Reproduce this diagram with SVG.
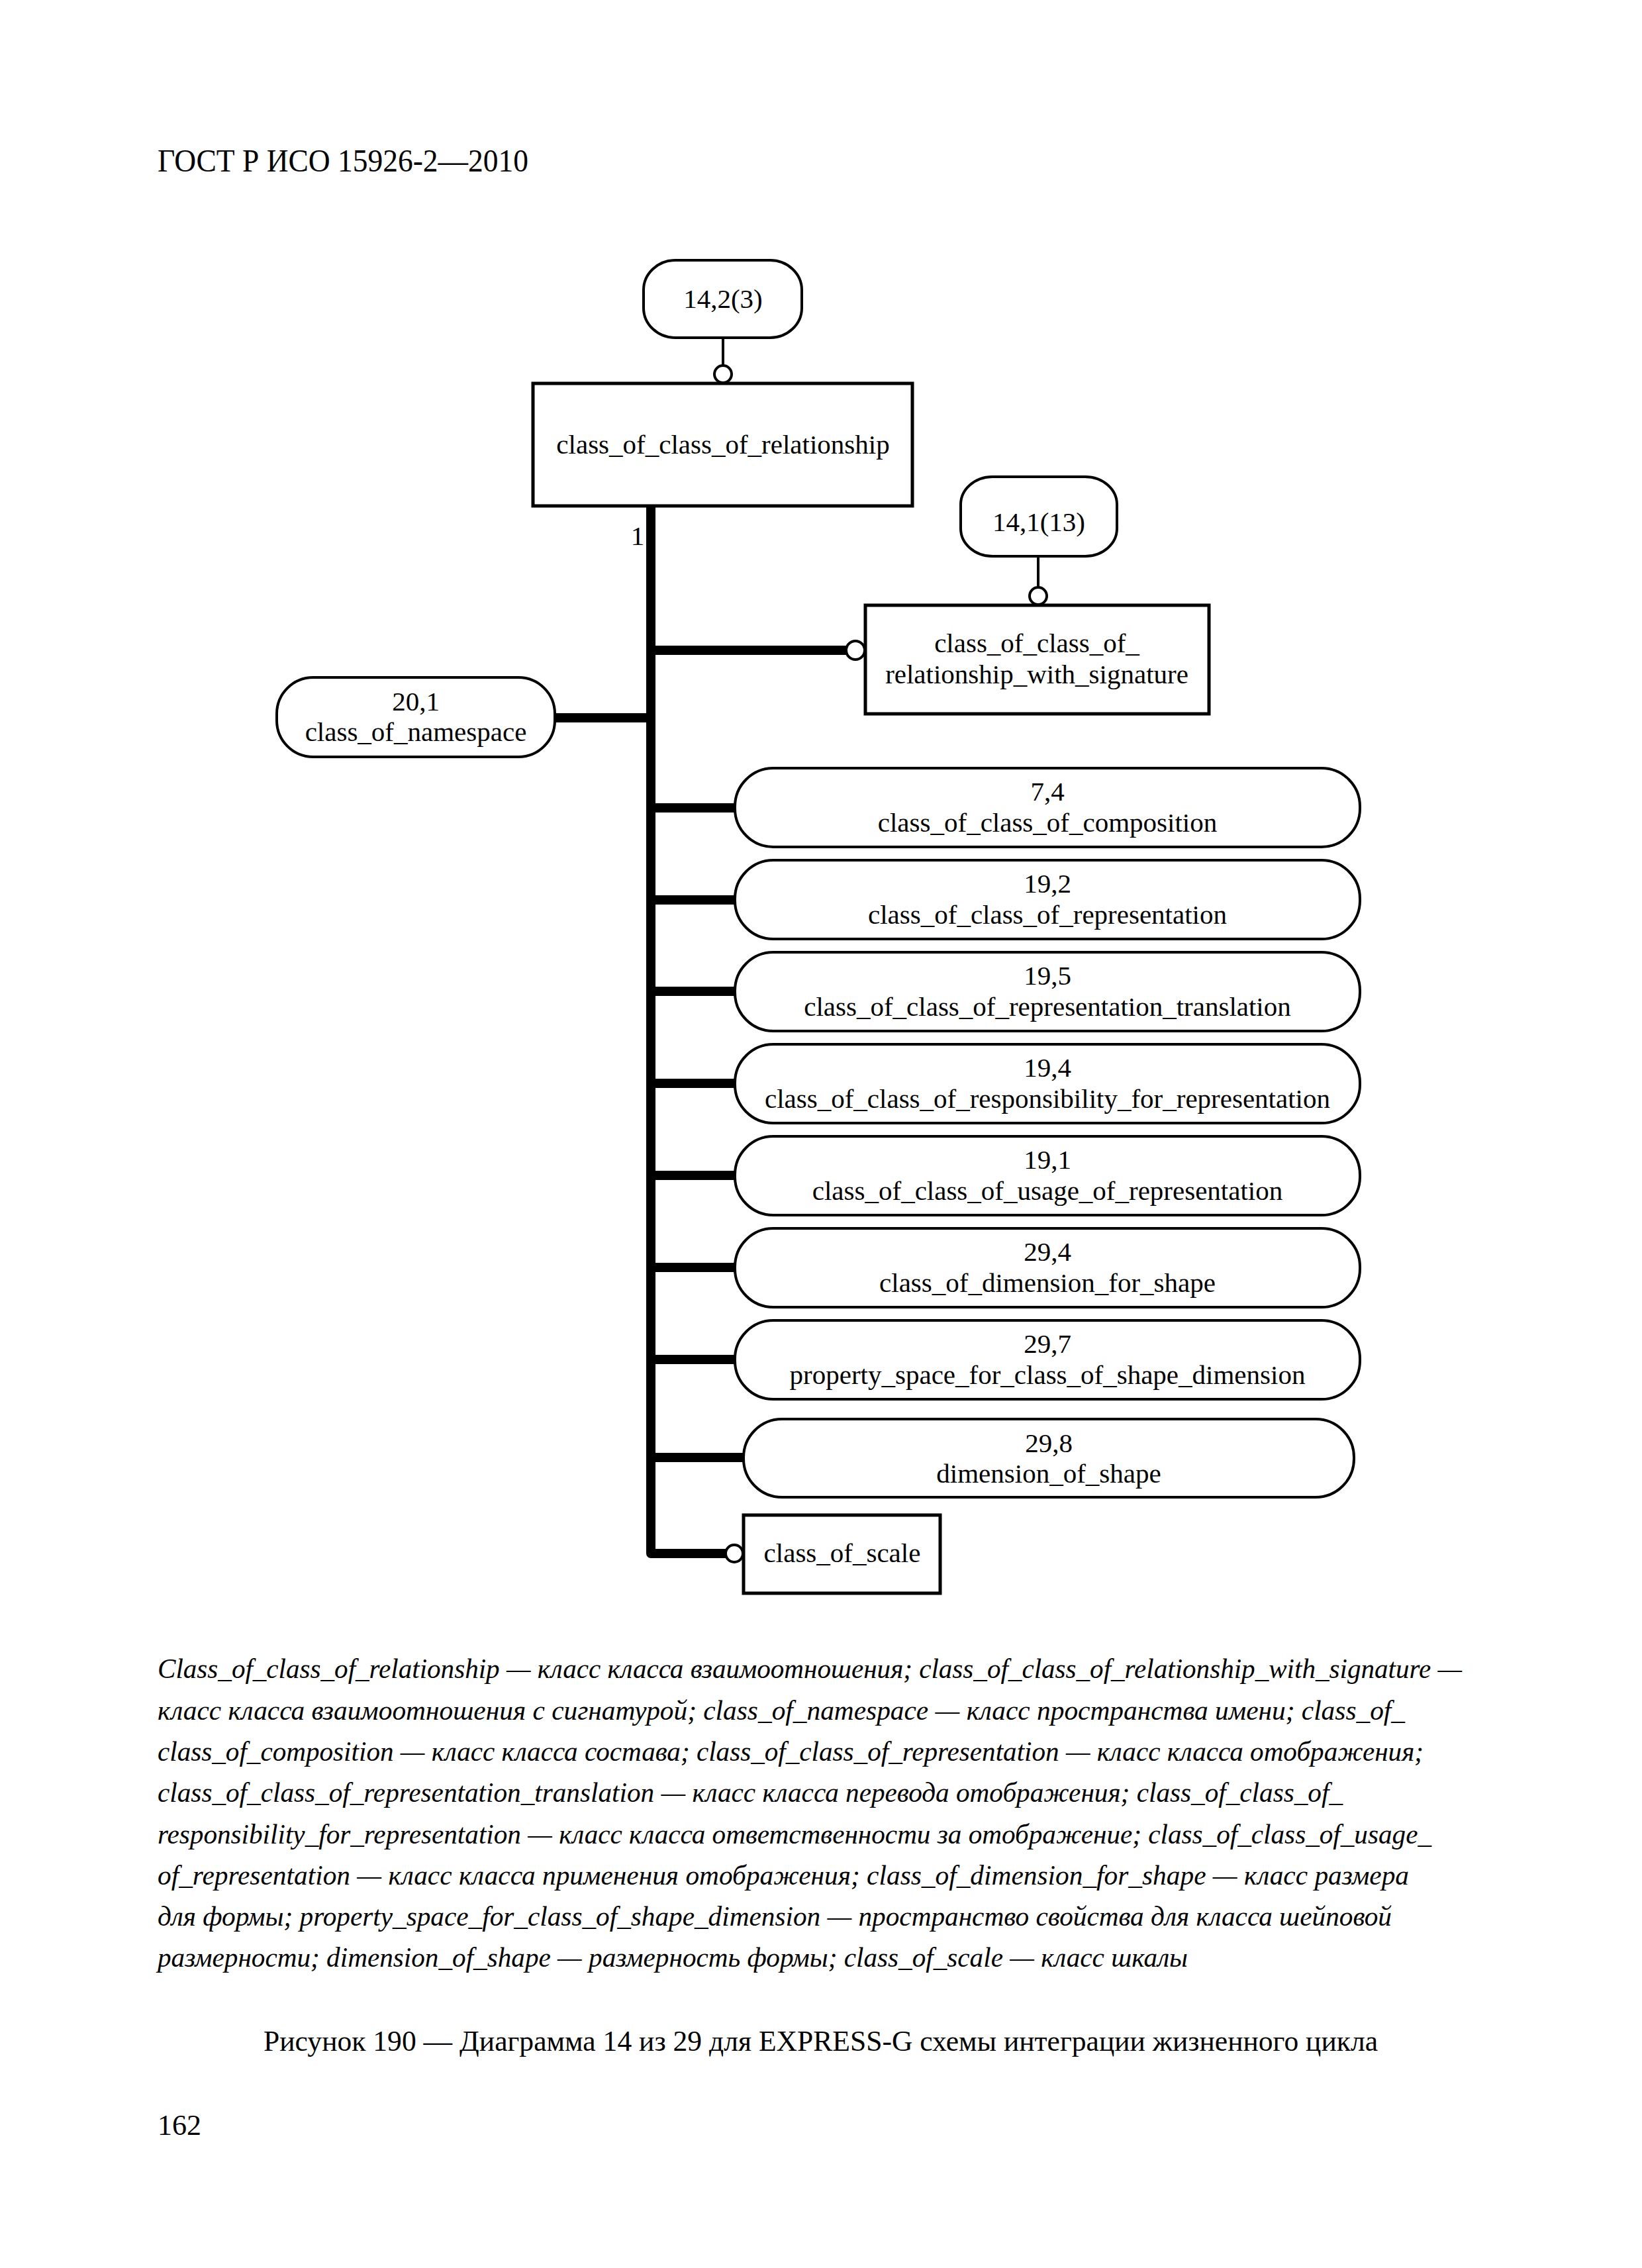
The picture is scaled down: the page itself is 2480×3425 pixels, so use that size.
<svg xmlns="http://www.w3.org/2000/svg" width="2480" height="3425" viewBox="0 0 2480 3425">
<style>
text{font-family:"Liberation Serif","Times New Roman",serif;fill:#000}
.n{font-size:41px;text-anchor:middle}
.cap{font-size:42px;font-style:italic}
.shape{fill:#fff;stroke:#000;stroke-width:5}
.ov{fill:#fff;stroke:#000;stroke-width:4}
.thin{stroke:#000;stroke-width:4;fill:none}
.thick{stroke:#000;stroke-width:14;fill:none}
.oc{fill:#fff;stroke:#000;stroke-width:4}
</style>
<rect width="2480" height="3425" fill="#fff"/>
<text x="238" y="259" font-size="48" textLength="560" lengthAdjust="spacingAndGlyphs">ГОСТ Р ИСО 15926-2—2010</text>

<g id="connectors">
  <line class="thin" x1="1092" y1="510" x2="1092" y2="552"/>
  <line class="thin" x1="1568" y1="840" x2="1568" y2="886"/>
  <path class="thick" d="M983 764 V2346 H1096" stroke-linecap="round" stroke-linejoin="round"/>
  <line class="thick" x1="983" y1="982" x2="1278" y2="982"/>
  <line class="thick" x1="983" y1="1084" x2="838" y2="1084" stroke-linecap="round"/>
  <line class="thick" x1="983" y1="1220" x2="1108" y2="1220" stroke-linecap="round"/>
  <line class="thick" x1="983" y1="1359" x2="1108" y2="1359" stroke-linecap="round"/>
  <line class="thick" x1="983" y1="1497" x2="1108" y2="1497" stroke-linecap="round"/>
  <line class="thick" x1="983" y1="1636" x2="1108" y2="1636" stroke-linecap="round"/>
  <line class="thick" x1="983" y1="1775" x2="1108" y2="1775" stroke-linecap="round"/>
  <line class="thick" x1="983" y1="1914" x2="1108" y2="1914" stroke-linecap="round"/>
  <line class="thick" x1="983" y1="2053" x2="1108" y2="2053" stroke-linecap="round"/>
  <line class="thick" x1="983" y1="2201" x2="1122" y2="2201" stroke-linecap="round"/>
  <circle class="oc" cx="1092" cy="565" r="13"/>
  <circle class="oc" cx="1568" cy="900" r="13"/>
  <circle class="oc" cx="1292" cy="982" r="14"/>
  <circle class="oc" cx="1109" cy="2346" r="13"/>
  <text x="963" y="823" font-size="41" text-anchor="middle">1</text>
</g>

<g id="ref-14-2-3">
  <rect class="ov" x="972" y="393" width="239" height="117" rx="48" ry="45"/>
  <text class="n" x="1092" y="465">14,2(3)</text>
</g>
<g id="class_of_class_of_relationship">
  <rect class="shape" x="805" y="579" width="573" height="185"/>
  <text class="n" x="1092" y="685">class_of_class_of_relationship</text>
</g>
<g id="ref-14-1-13">
  <rect class="ov" x="1451" y="720" width="236" height="120" rx="48" ry="42"/>
  <text class="n" x="1569" y="802">14,1(13)</text>
</g>
<g id="class_of_class_of_relationship_with_signature">
  <rect class="shape" x="1307" y="914" width="519" height="164"/>
  <text class="n" x="1566" y="985">class_of_class_of_</text>
  <text class="n" x="1566" y="1032">relationship_with_signature</text>
</g>
<g id="class_of_namespace">
  <rect class="ov" x="418" y="1023" width="420" height="120" rx="55" ry="55"/>
  <text class="n" x="628" y="1073">20,1</text>
  <text class="n" x="628" y="1119">class_of_namespace</text>
</g>
<g id="class_of_class_of_composition">
  <rect class="ov" x="1110" y="1160" width="944" height="119" rx="58" ry="58"/>
  <text class="n" x="1582" y="1209">7,4</text>
  <text class="n" x="1582" y="1256">class_of_class_of_composition</text>
</g>
<g id="class_of_class_of_representation">
  <rect class="ov" x="1110" y="1299" width="944" height="119" rx="58" ry="58"/>
  <text class="n" x="1582" y="1348">19,2</text>
  <text class="n" x="1582" y="1395">class_of_class_of_representation</text>
</g>
<g id="class_of_class_of_representation_translation">
  <rect class="ov" x="1110" y="1438" width="944" height="119" rx="58" ry="58"/>
  <text class="n" x="1582" y="1487">19,5</text>
  <text class="n" x="1582" y="1534">class_of_class_of_representation_translation</text>
</g>
<g id="class_of_class_of_responsibility_for_representation">
  <rect class="ov" x="1110" y="1577" width="944" height="119" rx="58" ry="58"/>
  <text class="n" x="1582" y="1626">19,4</text>
  <text class="n" x="1582" y="1673">class_of_class_of_responsibility_for_representation</text>
</g>
<g id="class_of_class_of_usage_of_representation">
  <rect class="ov" x="1110" y="1716" width="944" height="119" rx="58" ry="58"/>
  <text class="n" x="1582" y="1765">19,1</text>
  <text class="n" x="1582" y="1812">class_of_class_of_usage_of_representation</text>
</g>
<g id="class_of_dimension_for_shape">
  <rect class="ov" x="1110" y="1855" width="944" height="119" rx="58" ry="58"/>
  <text class="n" x="1582" y="1904">29,4</text>
  <text class="n" x="1582" y="1951">class_of_dimension_for_shape</text>
</g>
<g id="property_space_for_class_of_shape_dimension">
  <rect class="ov" x="1110" y="1994" width="944" height="119" rx="58" ry="58"/>
  <text class="n" x="1582" y="2043">29,7</text>
  <text class="n" x="1582" y="2090">property_space_for_class_of_shape_dimension</text>
</g>
<g id="dimension_of_shape">
  <rect class="ov" x="1123" y="2143" width="922" height="118" rx="58" ry="58"/>
  <text class="n" x="1584" y="2193">29,8</text>
  <text class="n" x="1584" y="2239">dimension_of_shape</text>
</g>
<g id="class_of_scale">
  <rect class="shape" x="1123" y="2288" width="297" height="118"/>
  <text class="n" x="1272" y="2359">class_of_scale</text>
</g>

<g id="legend">
  <text class="cap" x="238" y="2534" textLength="1970" lengthAdjust="spacingAndGlyphs">Class_of_class_of_relationship — класс класса взаимоотношения; class_of_class_of_relationship_with_signature —</text>
  <text class="cap" x="238" y="2597" textLength="1884" lengthAdjust="spacingAndGlyphs">класс класса взаимоотношения с сигнатурой; class_of_namespace — класс пространства имени; class_of_</text>
  <text class="cap" x="238" y="2659" textLength="1912" lengthAdjust="spacingAndGlyphs">class_of_composition — класс класса состава; class_of_class_of_representation — класс класса отображения;</text>
  <text class="cap" x="238" y="2721" textLength="1790" lengthAdjust="spacingAndGlyphs">class_of_class_of_representation_translation — класс класса перевода отображения; class_of_class_of_</text>
  <text class="cap" x="238" y="2784" textLength="1924" lengthAdjust="spacingAndGlyphs">responsibility_for_representation — класс класса ответственности за отображение; class_of_class_of_usage_</text>
  <text class="cap" x="238" y="2846" textLength="1890" lengthAdjust="spacingAndGlyphs">of_representation — класс класса применения отображения; class_of_dimension_for_shape — класс размера</text>
  <text class="cap" x="238" y="2908" textLength="1864" lengthAdjust="spacingAndGlyphs">для формы; property_space_for_class_of_shape_dimension — пространство свойства для класса шейповой</text>
  <text class="cap" x="238" y="2970" textLength="1556" lengthAdjust="spacingAndGlyphs">размерности; dimension_of_shape — размерность формы; class_of_scale — класс шкалы</text>
</g>
<text x="398" y="3097" font-size="44" textLength="1683" lengthAdjust="spacingAndGlyphs">Рисунок 190 — Диаграмма 14 из 29 для EXPRESS-G схемы интеграции жизненного цикла</text>
<text x="238" y="3224" font-size="44">162</text>
</svg>
